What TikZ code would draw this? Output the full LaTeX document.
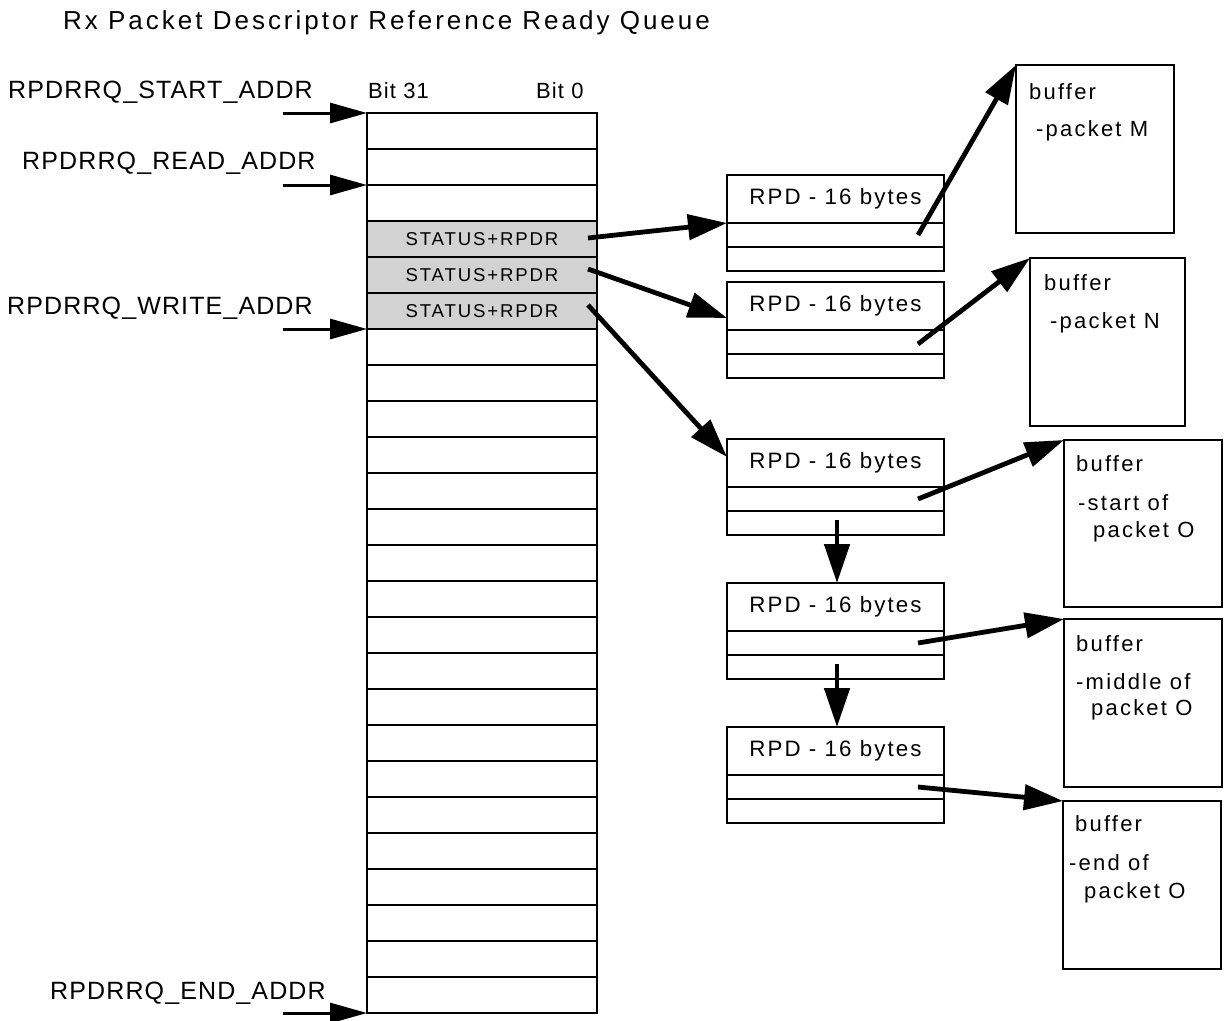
\documentclass[tikz,border=0pt]{standalone}
\usepackage{fontspec}
\setmainfont{Liberation Sans}
\usetikzlibrary{arrows.meta,calc}
\begin{document}
\begin{tikzpicture}[x=1pt,y=-1pt,
  qrow/.style={draw,line width=2.6pt,minimum width=230pt,minimum height=36pt,inner sep=0pt,outer sep=0pt,anchor=north west},
  qfull/.style={qrow,fill=gray!35,font=\fontsize{18.6}{20}\selectfont\addfontfeature{LetterSpace=10}},
  rhead/.style={draw,line width=2.6pt,minimum width=217pt,minimum height=48pt,inner sep=0pt,outer sep=0pt,anchor=north west,font=\fontsize{22.3}{24}\selectfont\addfontfeature{LetterSpace=9.4}},
  rrow/.style={draw,line width=2.6pt,minimum width=217pt,minimum height=24pt,inner sep=0pt,outer sep=0pt,anchor=north west},
  bufbox/.style={draw,line width=2.6pt,inner sep=0pt,outer sep=0pt},
  buftxt/.style={anchor=base west,inner sep=0pt,font=\fontsize{22}{24}\selectfont\addfontfeature{LetterSpace=10}},
  lbl/.style={anchor=base west,inner sep=0pt,font=\fontsize{25}{27}\selectfont\addfontfeature{LetterSpace=4.5}},
  bitlbl/.style={anchor=base west,inner sep=0pt,font=\fontsize{22}{24}\selectfont\addfontfeature{LetterSpace=5}},
  lblarrow/.style={line width=3pt,-{Triangle[length=37pt,width=20pt]}},
  bigarrow/.style={line width=4.8pt,-{Triangle[length=39pt,width=25pt]}}]
\useasboundingbox (0,0) rectangle (1225,1020);

% title
\node[anchor=base west,inner sep=0pt,font=\fontsize{26}{28}\selectfont\addfontfeature{LetterSpace=11.5}] (title) at (63,29) {Rx Packet Descriptor Reference Ready Queue};

% queue rows
\foreach \i in {1,2,3,7,8,9,10,11,12,13,14,15,16,17,18,19,20,21,22,23,24,25}{
  \node[qrow] (q\i) at (367,{113+36*(\i-1)}) {};
}
\node[qfull] (q4) at (367,221) {STATUS+RPDR};
\node[qfull] (q5) at (367,257) {STATUS+RPDR};
\node[qfull] (q6) at (367,293) {STATUS+RPDR};

% bit labels
\node[bitlbl] (b31) at (368,98) {Bit 31};
\node[bitlbl] (b0) at (536,98) {Bit 0};

% pointer labels
\node[lbl] (lstart) at (8,98) {RPDRRQ\_START\_ADDR};
\node[lbl] (lread) at (22,169) {RPDRRQ\_READ\_ADDR};
\node[lbl] (lwrite) at (7,314) {RPDRRQ\_WRITE\_ADDR};
\node[lbl] (lend) at (50,999) {RPDRRQ\_END\_ADDR};

\coordinate (sA) at (283,113);
\coordinate (rA) at (283,185);
\coordinate (wA) at (283,329);
\coordinate (eA) at (283,1013);
\draw[lblarrow] (sA) -- (q1.north west);
\draw[lblarrow] (rA) -- (q3.north west);
\draw[lblarrow] (wA) -- (q7.north west);
\draw[lblarrow] (eA) -- (q25.south west);

% RPD boxes
\foreach \k/\t in {1/175,2/282,3/439,4/583,5/727}{
  \node[rhead] (r\k h) at (727,\t) {RPD - 16 bytes};
  \node[rrow] (r\k a) at (727,\t+48) {};
  \node[rrow] (r\k b) at (727,\t+72) {};
}

% buffers
\node[bufbox,minimum width=158pt,minimum height=168pt,anchor=north west] (bM) at (1016,65) {};
\node[bufbox,minimum width=155pt,minimum height=168pt,anchor=north west] (bN) at (1030,258) {};
\node[bufbox,minimum width=158pt,minimum height=167pt,anchor=north west] (bS) at (1064,440) {};
\node[bufbox,minimum width=158pt,minimum height=168pt,anchor=north west] (bMd) at (1064,619) {};
\node[bufbox,minimum width=158pt,minimum height=168pt,anchor=north west] (bE) at (1063,801) {};

\node[buftxt] (tM1) at (1029,99) {buffer};
\node[buftxt] (tM2) at (1036,136) {-packet M};
\node[buftxt] (tN1) at (1044,290) {buffer};
\node[buftxt] (tN2) at (1050,328) {-packet N};
\node[buftxt] (tS1) at (1076,471) {buffer};
\node[buftxt] (tS2) at (1078,510) {-start of};
\node[buftxt] (tS3) at (1093,537) {packet O};
\node[buftxt] (tD1) at (1076,651) {buffer};
\node[buftxt] (tD2) at (1076,689) {-middle of};
\node[buftxt] (tD3) at (1091,715) {packet O};
\node[buftxt] (tE1) at (1075,831) {buffer};
\node[buftxt] (tE2) at (1069,870) {-end of};
\node[buftxt] (tE3) at (1084,898) {packet O};

% queue -> RPD
\draw[bigarrow] ($(q4.east)+(-9,-1)$) -- (r1h.south west);
\draw[bigarrow] ($(q5.east)+(-9,-6)$) -- ($(r2h.south west)+(0,-12)$);
\draw[bigarrow] ($(q6.east)+(-9,-6)$) -- ($(r3h.west)+(0,-6)$);

% RPD -> buffers
\draw[bigarrow] ($(r1a.east)+(-26,0)$) -- (bM.north west);
\draw[bigarrow] ($(r2a.east)+(-26,2)$) -- (bN.north west);
\draw[bigarrow] ($(r3a.east)+(-26,0)$) -- (bS.north west);
\draw[bigarrow] ($(r4a.east)+(-26,0)$) -- (bMd.north west);
\draw[bigarrow] ($(r5a.east)+(-26,0)$) -- (bE.north west);

% RPD chain
\draw[bigarrow] ($(r3b.center)+(1.5,-3)$) -- ($(r4h.north)+(1.5,0)$);
\draw[bigarrow] ($(r4b.center)+(1.5,-3)$) -- ($(r5h.north)+(1.5,0)$);
\end{tikzpicture}
\end{document}
